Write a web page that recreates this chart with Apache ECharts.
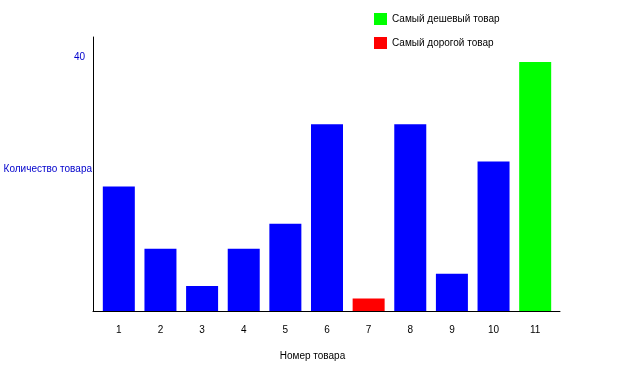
<!DOCTYPE html>
<html>
<head>
<meta charset="utf-8">
<script src="https://cdn.jsdelivr.net/npm/echarts@6/dist/echarts.min.js"></script>
<style>html,body{margin:0;padding:0;background:#fff;}#c{width:624px;height:372px;}</style>
</head>
<body>
<div id="c"></div>
<script>
var categories = ['1','2','3','4','5','6','7','8','9','10','11'];
var counts = [20, 10, 4, 10, 14, 30, 2, 30, 6, 24, 40];
var cheapestIndex = 10;
var priciestIndex = 6;
var yTicks = [40];
var cheapestName = 'Самый дешевый товар';
var priciestName = 'Самый дорогой товар';

var baseData = counts.map(function(v, i){ return (i === cheapestIndex || i === priciestIndex) ? '-' : v; });
var cheapData = counts.map(function(v, i){ return i === cheapestIndex ? v : '-'; });
var priceyData = counts.map(function(v, i){ return i === priciestIndex ? v : '-'; });

var font = 'Liberation Sans, Arial, sans-serif';
var chart = echarts.init(document.getElementById('c'));
chart.setOption({
  animation: false,
  backgroundColor: '#ffffff',
  textStyle: { fontFamily: font, fontSize: 10 },
  legend: {
    orient: 'vertical', left: 374, top: 13, padding: 0,
    itemWidth: 13, itemHeight: 12, itemGap: 12,
    icon: 'rect',
    data: [cheapestName, priciestName],
    textStyle: { color: '#000', fontSize: 10, fontFamily: font },
    selectedMode: false
  },
  grid: [
    { left: 93, right: 64, top: 37, bottom: 61, containLabel: false, outerBoundsMode: 'none' },
    { left: 98, right: 68, top: 62, bottom: 61, containLabel: false, outerBoundsMode: 'none' }
  ],
  xAxis: [
    { gridIndex: 0, type: 'value', min: 0, max: 1,
      axisLine: { show: true, lineStyle: { color: '#000', width: 1 } },
      axisTick: { show: false }, axisLabel: { show: false }, splitLine: { show: false },
      name: 'Номер товара', nameLocation: 'middle', nameGap: 40,
      nameTextStyle: { color: '#000', fontSize: 10, fontFamily: font, padding: [0, 28, 0, 0] }
    },
    { gridIndex: 1, type: 'category', data: categories,
      axisLine: { show: false }, axisTick: { show: false },
      axisLabel: { color: '#000', fontSize: 10, fontFamily: font, margin: 14 }
    }
  ],
  yAxis: [
    { gridIndex: 0, type: 'value', min: 0, max: 1,
      axisLine: { show: true, lineStyle: { color: '#000', width: 1 } },
      axisTick: { show: false }, axisLabel: { show: false }, splitLine: { show: false },
      name: 'Количество товара', nameLocation: 'middle', nameRotate: 0, nameGap: 1,
      nameTextStyle: { color: '#0000cc', fontSize: 10, fontFamily: font, align: 'right', verticalAlign: 'bottom' }
    },
    { gridIndex: 1, type: 'value', min: 0, max: 40, interval: 40,
      axisLine: { show: false }, axisTick: { show: false }, splitLine: { show: false },
      axisLabel: { color: '#0000cc', fontSize: 10, fontFamily: font, margin: 13, verticalAlign: 'bottom',
        formatter: function(v){ return yTicks.indexOf(v) >= 0 ? String(v) : ''; } }
    }
  ],
  series: [
    { type: 'bar', name: 'Товар', xAxisIndex: 1, yAxisIndex: 1, data: baseData, stack: 'all', barWidth: 32, itemStyle: { color: '#0000ff' } },
    { type: 'bar', name: cheapestName, xAxisIndex: 1, yAxisIndex: 1, data: cheapData, stack: 'all', barWidth: 32, itemStyle: { color: '#00ff00' } },
    { type: 'bar', name: priciestName, xAxisIndex: 1, yAxisIndex: 1, data: priceyData, stack: 'all', barWidth: 32, itemStyle: { color: '#ff0000' } }
  ]
});
</script>
</body>
</html>
